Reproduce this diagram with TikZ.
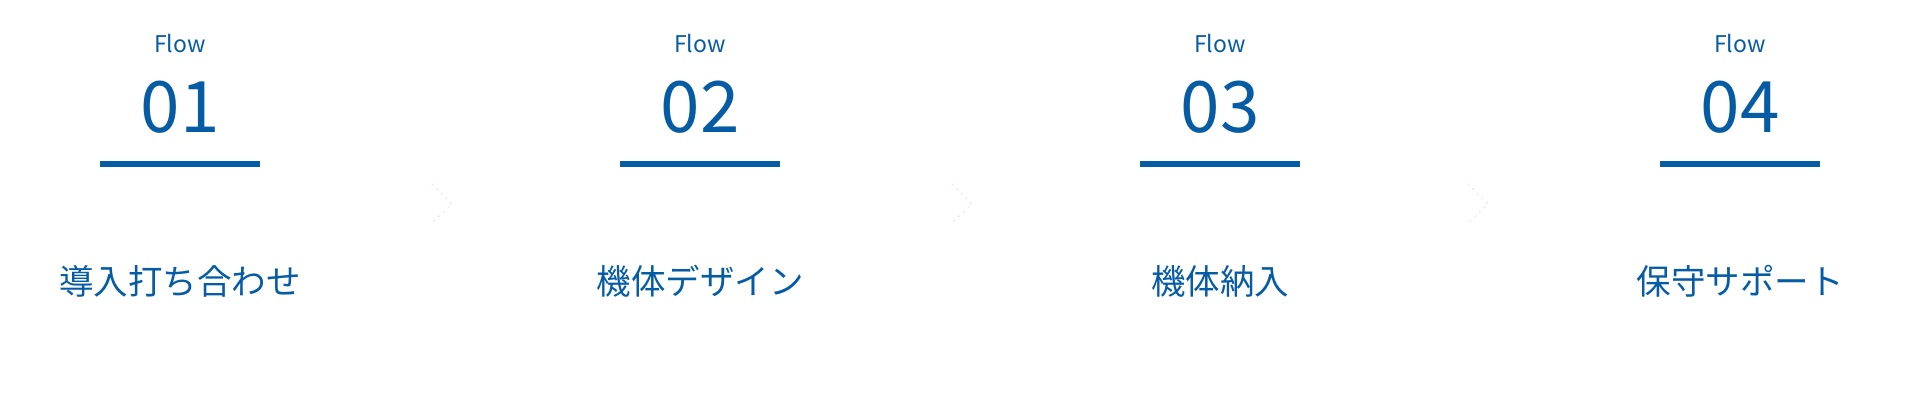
\documentclass[tikz,border=0pt]{standalone}
\usepackage{fontspec}
\setmainfont{Noto Sans CJK JP}
\definecolor{flowblue}{HTML}{065CA4}
\definecolor{faint}{HTML}{E8E8E8}
\tikzset{
  flowlbl/.style={text=flowblue, font=\fontsize{23}{26}\selectfont, anchor=base, inner sep=0pt},
  flownum/.style={text=flowblue, font=\fontsize{71}{78}\selectfont, anchor=base, inner sep=0pt},
  steptitle/.style={text=flowblue, font=\fontsize{34.5}{38}\selectfont, anchor=base, inner sep=0pt},
  rule/.style={draw=flowblue, line width=6pt},
  chev/.style={draw=faint, line width=1.1pt, dash pattern=on 1.5pt off 5pt, line cap=round}
}
\begin{document}
\begin{tikzpicture}[x=1pt,y=-1pt]
\useasboundingbox (0,0) rectangle (1920,404);
\foreach \i/\cx/\num/\ttl in {1/180/01/導入打ち合わせ,2/700/02/機体デザイン,3/1220/03/機体納入,4/1740/04/保守サポート}{
  \node[flowlbl] (f\i) at (\cx,53) {Flow};
  \node[flownum] (n\i) at (\cx,132) {\num};
  \coordinate (la\i) at (\cx-80,164);
  \coordinate (lb\i) at (\cx+80,164);
  \draw[rule] (la\i) -- (lb\i);
  \node[steptitle] (t\i) at (\cx,294) {\ttl};
}
\foreach \j/\mx in {1/432,2/952,3/1468}{
  \coordinate (ca\j) at (\mx,184);
  \coordinate (cb\j) at (\mx+20,204);
  \coordinate (cc\j) at (\mx,223);
  \draw[chev] (ca\j) -- (cb\j) -- (cc\j);
}
\end{tikzpicture}
\end{document}
